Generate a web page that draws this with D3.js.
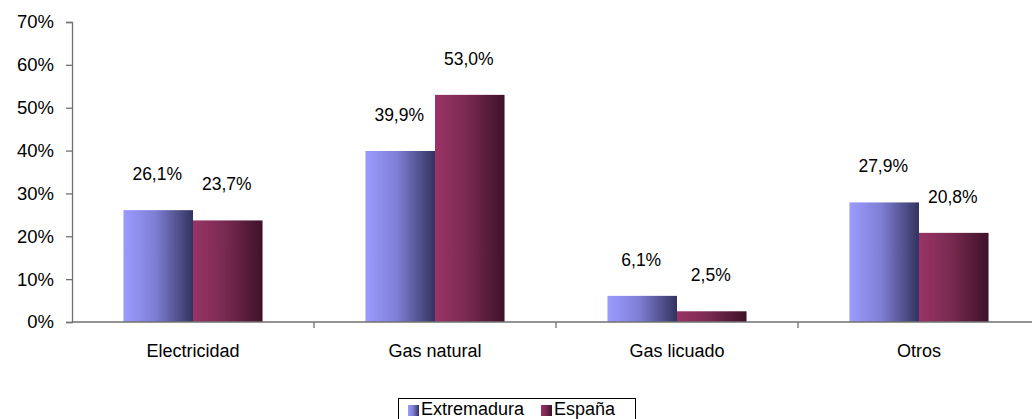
<!DOCTYPE html>
<html><head><meta charset="utf-8">
<script src="https://cdn.jsdelivr.net/npm/d3@7"></script>
<style>body{margin:0;background:#fff}svg{display:block;font-family:"Liberation Sans",Arial,sans-serif}</style>
</head><body><svg id="c" width="1032" height="419"></svg>
<script>
const categories = ["Electricidad","Gas natural","Gas licuado","Otros"];
const seriesNames = ["Extremadura","España"];
const extremadura = [26.1, 39.9, 6.1, 27.9];
const espana = [23.7, 53.0, 2.5, 20.8];
const yTicks = [0,10,20,30,40,50,60,70];

const svg = d3.select("#c");
const x0 = d3.scaleBand().domain(categories).range([72, 1040]).paddingInner(0).paddingOuter(0);
const x1 = d3.scaleBand().domain(seriesNames).range([0, x0.bandwidth()]).paddingInner(0).paddingOuter(0.74);
const y = d3.scaleLinear().domain([0,70]).range([322, 22]);

const defs = svg.append("defs");
const gradStops = {
  "Extremadura": ["#9b9bff","#7f7fd6","#33335f"],
  "España": ["#9a3466","#7a2a52","#3e1229"]
};
seriesNames.forEach((s,i)=>{
  const g = defs.append("linearGradient").attr("id","g"+i).attr("x1","0").attr("x2","1").attr("y1","0").attr("y2","0");
  g.append("stop").attr("offset","0").attr("stop-color",gradStops[s][0]);
  g.append("stop").attr("offset","0.45").attr("stop-color",gradStops[s][1]);
  g.append("stop").attr("offset","1").attr("stop-color",gradStops[s][2]);
});

const data = categories.map((c,i)=>({cat:c, vals:[{s:seriesNames[0],v:extremadura[i],k:0},{s:seriesNames[1],v:espana[i],k:1}]}));

const grp = svg.append("g").selectAll("g").data(data).join("g")
  .attr("transform", d=>`translate(${x0(d.cat)},0)`);
grp.selectAll("rect").data(d=>d.vals).join("rect")
  .attr("x", d=>x1(d.s)).attr("width", x1.bandwidth())
  .attr("y", d=>y(d.v)).attr("height", d=>y(0)-y(d.v))
  .attr("fill", d=>`url(#g${d.k})`);
grp.selectAll("text").data(d=>d.vals).join("text")
  .attr("x", d=>x1(d.s)+x1.bandwidth()/2 - 1)
  .attr("y", d=>y(d.v)-30)
  .attr("text-anchor","middle").attr("font-size","17.5px").attr("fill","#000")
  .text(d=>d.v.toFixed(1).replace(".",",")+"%");

const yAxis = d3.axisLeft(y).tickValues(yTicks).tickFormat(d=>d+"%").tickSize(6).tickPadding(12);
const ya = svg.append("g").attr("transform","translate(72,0)").call(yAxis);
ya.select(".domain").attr("stroke","#707070").attr("stroke-width",1.3);
ya.selectAll(".tick line").attr("stroke","#707070").attr("stroke-width",1.3);
ya.selectAll(".tick text").attr("font-size","18.5px").attr("fill","#000").attr("font-family","Liberation Sans, Arial, sans-serif");

const xa = svg.append("g").attr("transform","translate(0,322)");
xa.append("line").attr("x1",72).attr("x2",1040).attr("stroke","#707070").attr("stroke-width",1.3);
xa.selectAll("line.t").data(categories.slice(1)).join("line").attr("class","t")
  .attr("x1",d=>x0(d)).attr("x2",d=>x0(d)).attr("y1",0).attr("y2",6)
  .attr("stroke","#707070").attr("stroke-width",1.3);
xa.selectAll("text").data(categories).join("text")
  .attr("x",d=>x0(d)+x0.bandwidth()/2).attr("y",35)
  .attr("text-anchor","middle").attr("font-size","18px").attr("fill","#000")
  .text(d=>d);

const lg = svg.append("g");
lg.append("rect").attr("x",398.5).attr("y",398.5).attr("width",237).attr("height",24)
  .attr("fill","#fff").attr("stroke","#000").attr("stroke-width",1);
const items = [{s:seriesNames[0],x:408},{s:seriesNames[1],x:541}];
items.forEach((it,i)=>{
  lg.append("rect").attr("x",it.x).attr("y",405).attr("width",11).attr("height",11).attr("fill",`url(#g${i})`);
  lg.append("text").attr("x",it.x+13).attr("y",415).attr("font-size","18px").attr("fill","#000").text(it.s);
});
</script></body></html>
